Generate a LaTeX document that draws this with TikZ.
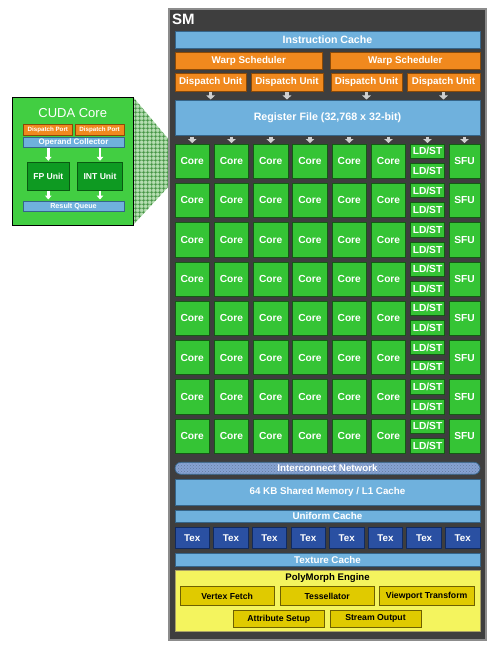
\documentclass[tikz,border=0pt]{standalone}
\usepackage{fontspec}
\setmainfont{Liberation Sans}
\usetikzlibrary{arrows.meta,patterns,patterns.meta,calc}
\definecolor{smbg}{HTML}{3E3E3E}
\definecolor{smedge}{HTML}{8C8C8C}
\definecolor{cacheblue}{HTML}{6FB1DD}
\definecolor{cacheedge}{HTML}{35658A}
\definecolor{orng}{HTML}{F0891E}
\definecolor{orngedge}{HTML}{8A4A08}
\definecolor{coregreen}{HTML}{35C435}
\definecolor{coreedge}{HTML}{145A14}
\definecolor{texblue}{HTML}{2A50A2}
\definecolor{texedge}{HTML}{102A60}
\definecolor{pmyellow}{HTML}{F4F45E}
\definecolor{pmunitc}{HTML}{E0CA00}
\definecolor{pmedge}{HTML}{6E6000}
\definecolor{insetgreen}{HTML}{42CE42}
\definecolor{fpgreen}{HTML}{0E9A22}
\definecolor{fpedge}{HTML}{0A5A12}
\definecolor{hatchgreen}{HTML}{B6DEB2}
\definecolor{hatchline}{HTML}{3A8E3A}
\definecolor{netblue}{HTML}{86A3D3}
\definecolor{arrowgray}{HTML}{CFCFCF}
\tikzdeclarepattern{
 name=coarsegrid, type=uncolored,
 bounding box={(0pt,0pt) and (4.2pt,4.2pt)},
 tile size={(4.2pt,4.2pt)},
 code={\draw[line width=0.8pt] (0pt,2.1pt) -- (4.2pt,2.1pt) (2.1pt,0pt) -- (2.1pt,4.2pt);}
}
\newcommand\myfs[1]{\fontsize{#1}{#1}\selectfont}
\newcommand\mybox[7]{%
 \pgfmathsetmacro\bxcx{(#3+#5)/2}%
 \pgfmathsetmacro\bxcy{(#4+#6)/2}%
 \pgfmathsetmacro\bxw{#5-#3}%
 \pgfmathsetmacro\bxh{#6-#4}%
 \node[#1, minimum width=\bxw pt, minimum height=\bxh pt] (#2) at (\bxcx,\bxcy) {#7};}
\begin{document}
\begin{tikzpicture}[x=1pt,y=-1pt,
 blk/.style={draw, line width=0.7pt, inner sep=0pt, outer sep=0pt, text=white, font=\bfseries\myfs{9.8}},
 smbox/.style={blk, fill=smbg, draw=smedge, line width=1.5pt},
 cache/.style={blk, fill=cacheblue, draw=cacheedge},
 orbox/.style={blk, fill=orng, draw=orngedge},
 corebox/.style={blk, fill=coregreen, draw=coreedge, font=\bfseries\myfs{10.2}},
 texbox/.style={blk, fill=texblue, draw=texedge},
 netbox/.style={blk, rounded corners=6pt, draw=cacheedge, preaction={fill=netblue}, pattern=crosshatch dots, pattern color=netblue!75!black},
 pmbg/.style={blk, fill=pmyellow, draw=pmedge!60},
 pmunit/.style={blk, fill=pmunitc, draw=pmedge, text=black, font=\bfseries\myfs{8.7}},
 insetbox/.style={blk, fill=insetgreen, draw=black, line width=1pt},
 fpbox/.style={blk, fill=fpgreen, draw=fpedge, font=\bfseries\myfs{8.6}},
 blockarrow/.style={draw=arrowgray, line width=3.6pt, -{Triangle[width=8.5pt,length=4pt]}, shorten <=1.5pt, shorten >=1pt},
 whitearrow/.style={draw=white, line width=2.4pt, -{Triangle[width=6.5pt,length=4pt]}, shorten <=0.5pt, shorten >=1.5pt}
]
\useasboundingbox (0,0) rectangle (497,650);
\fill[white] (0,0) rectangle (497,650);
% magnifier hatch
\fill[hatchgreen] (133.5,97.5) -- (170,141) -- (170,185) -- (133.5,224.5) -- cycle;
\fill[pattern=coarsegrid, pattern color=hatchline] (133.5,97.5) -- (170,141) -- (170,185) -- (133.5,224.5) -- cycle;
% SM
\mybox{smbox}{sm}{169}{9}{486}{640}{}
\node[anchor=west, text=white, font=\bfseries\myfs{15}, inner sep=0pt] (smlabel) at (172,19) {SM};
\mybox{cache, font=\bfseries\myfs{10.6}}{icache}{175}{31}{480}{48}{Instruction Cache}
\mybox{orbox}{ws1}{175}{52.3}{322.7}{69.3}{Warp Scheduler}
\mybox{orbox}{ws2}{330.7}{52.3}{480}{69.3}{Warp Scheduler}
\mybox{orbox}{du1}{175}{73.7}{246.3}{91}{Dispatch Unit}
\mybox{orbox}{du2}{251}{73.7}{323}{91}{Dispatch Unit}
\mybox{orbox}{du3}{331}{73.7}{402}{91}{Dispatch Unit}
\mybox{orbox}{du4}{407}{73.7}{480}{91}{Dispatch Unit}
\mybox{cache, font=\bfseries\myfs{10.7}}{reg}{175}{100.5}{480}{135}{Register File (32,768 x 32-bit)}
\foreach \d in {1,...,4} {\draw[blockarrow] (du\d.south) -- (reg.north -| du\d.south);}
% cores
\foreach \r in {1,...,8} {
 \pgfmathsetmacro\rowT{144+(\r-1)*39.3}
 \pgfmathsetmacro\rowB{\rowT+34.3}
 \pgfmathsetmacro\rowM{\rowT+14.3}
 \pgfmathsetmacro\rowN{\rowT+19.5}
 \foreach \c in {1,...,6} {
  \pgfmathsetmacro\colL{175+(\c-1)*39.25}
  \pgfmathsetmacro\colR{\colL+34.5}
  \mybox{corebox}{core\r\c}{\colL}{\rowT}{\colR}{\rowB}{Core}
 }
 \mybox{corebox}{ldA\r}{410.7}{\rowT}{444.3}{\rowM}{LD/ST}
 \mybox{corebox}{ldB\r}{410.7}{\rowN}{444.3}{\rowB}{LD/ST}
 \mybox{corebox}{sfu\r}{449}{\rowT}{480}{\rowB}{SFU}
}
\foreach \c in {1,...,6} {\draw[blockarrow] (reg.south -| core1\c.north) -- (core1\c.north);}
\draw[blockarrow] (reg.south -| ldA1.north) -- (ldA1.north);
\draw[blockarrow] (reg.south -| sfu1.north) -- (sfu1.north);
% memory
\mybox{netbox}{net}{175}{462.3}{480}{474.3}{Interconnect Network}
\mybox{cache}{smem}{175}{479.5}{480}{505}{64 KB Shared Memory / L1 Cache}
\mybox{cache}{ucache}{175}{510}{480}{522.7}{Uniform Cache}
\foreach \k in {1,...,8} {
 \pgfmathsetmacro\colL{175+(\k-1)*38.64}
 \pgfmathsetmacro\colR{\colL+34.5}
 \mybox{texbox}{tex\k}{\colL}{527.3}{\colR}{548.5}{Tex}
}
\mybox{cache}{tcache}{175}{553.3}{480}{566}{Texture Cache}
% polymorph
\mybox{pmbg}{pm}{175}{570.7}{480}{631.7}{}
\node[text=black, font=\bfseries\myfs{9.6}] (pmtitle) at (327.5,578.5) {PolyMorph Engine};
\mybox{pmunit}{vf}{180}{586.7}{274.3}{605.7}{Vertex Fetch}
\mybox{pmunit}{tess}{280}{586.7}{374.3}{605.7}{Tessellator}
\mybox{pmunit}{vt}{379.3}{586.7}{474}{605.7}{Viewport Transform}
\mybox{pmunit}{as}{233.3}{610}{324.3}{627.7}{Attribute Setup}
\mybox{pmunit}{so}{330}{610}{421}{627.7}{Stream Output}
% CUDA core inset
\mybox{insetbox}{cuda}{12}{97.5}{133.5}{225}{}
\node[text=white, font=\myfs{13}] (cudatitle) at (72.7,113) {CUDA Core};
\mybox{orbox, font=\bfseries\myfs{6.2}, line width=0.5pt}{dp1}{23}{124.3}{72.7}{135}{Dispatch Port}
\mybox{orbox, font=\bfseries\myfs{6.2}, line width=0.5pt}{dp2}{75.3}{124.3}{124}{135}{Dispatch Port}
\mybox{cache, font=\bfseries\myfs{8}, line width=0.5pt}{opc}{23}{137.5}{124}{147.7}{Operand Collector}
\mybox{fpbox}{fp}{27.3}{162.3}{69.3}{190}{FP Unit}
\mybox{fpbox}{int}{77.3}{162.3}{122.7}{190}{INT Unit}
\mybox{cache, font=\bfseries\myfs{7.2}, line width=0.5pt}{rq}{23}{201}{124}{211.7}{Result Queue}
\draw[whitearrow] (opc.south -| fp.north) -- (fp.north);
\draw[whitearrow] (opc.south -| int.north) -- (int.north);
\draw[whitearrow] (fp.south) -- (rq.north -| fp.south);
\draw[whitearrow] (int.south) -- (rq.north -| int.south);
\end{tikzpicture}
\end{document}
